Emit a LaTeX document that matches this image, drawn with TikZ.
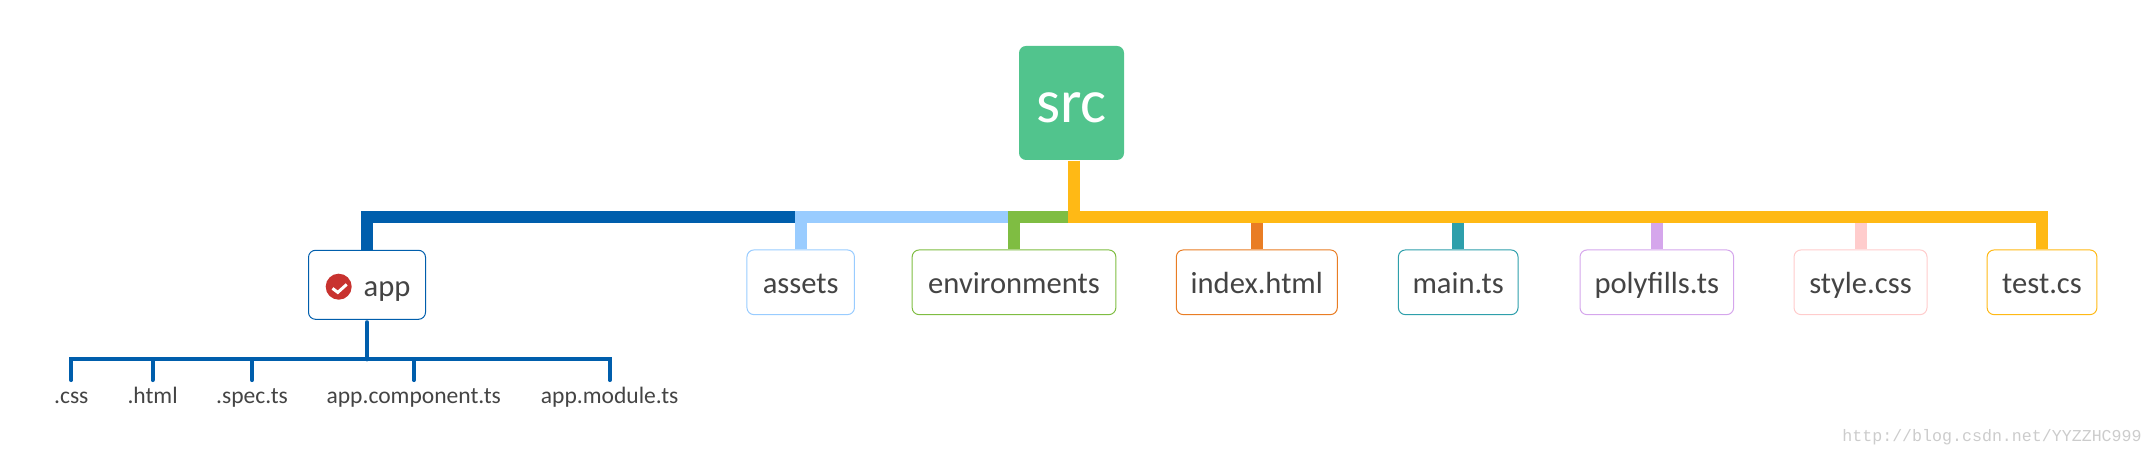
\documentclass[tikz,border=0pt]{standalone}
\usepackage{fontspec}
\setmainfont{Carlito}
\newfontfamily\markfont{Liberation Mono}
\usepackage{xcolor}
\usetikzlibrary{arrows.meta,positioning,calc}

\definecolor{rootgreen}{HTML}{51C48D}
\definecolor{appblue}{HTML}{005EAC}
\definecolor{assetblue}{HTML}{99CCFF}
\definecolor{envgreen}{HTML}{7FBD42}
\definecolor{indexorange}{HTML}{E97D24}
\definecolor{mainteal}{HTML}{2E9FAB}
\definecolor{polypurple}{HTML}{D5A6EC}
\definecolor{stylepink}{HTML}{FFCCCC}
\definecolor{trunkyellow}{HTML}{FFB915}
\definecolor{tickred}{HTML}{C8322F}
\definecolor{labelgray}{HTML}{444444}

\begin{document}
\begin{tikzpicture}[
    filebox/.style={draw, rectangle, rounded corners=0.07cm, line width=0.01cm, fill=white, inner sep=0pt,
        minimum height=0.647cm, text height=0.30cm, text depth=0.066cm, text=labelgray,
        font=\fontsize{8.7pt}{11pt}\selectfont},
    leaflabel/.style={anchor=north, inner sep=0pt, text height=0.23cm, text depth=0.06cm, text=labelgray,
        font=\fontsize{6.7pt}{8pt}\selectfont},
    branch/.style={line width=0.12cm},
    leafline/.style={draw=appblue, line width=0.042cm, line cap=round}]
    \useasboundingbox (0,0) rectangle (21.54,-4.57);

    % Central root box
    \node[rectangle, fill=rootgreen, rounded corners=0.07cm, text=white, minimum width=1.05cm, minimum height=1.14cm,
        inner sep=0pt, text height=0.4cm, text depth=0cm, font=\fontsize{17.5pt}{20pt}\selectfont] (src) at (10.715,-1.03) {src};
    \coordinate (hub) at (10.736,-2.167);

    % First level boxes
    \node[filebox, draw=appblue, minimum width=1.17cm, minimum height=0.69cm] (app) at (3.67,-2.848) {\hspace*{0.4cm}app};
    \node[filebox, draw=assetblue, minimum width=1.075cm] (assets) at (8.007,-2.823) {assets};
    \node[filebox, draw=envgreen, minimum width=2.037cm] (env) at (10.14,-2.823) {environments};
    \node[filebox, draw=indexorange, minimum width=1.61cm] (index) at (12.568,-2.823) {index.html};
    \node[filebox, draw=mainteal, minimum width=1.197cm] (main) at (14.582,-2.823) {main.ts};
    \node[filebox, draw=polypurple, minimum width=1.536cm] (poly) at (16.568,-2.823) {polyfills.ts};
    \node[filebox, draw=stylepink, minimum width=1.33cm] (style) at (18.605,-2.823) {style.css};
    \node[filebox, draw=trunkyellow, minimum width=1.098cm] (test) at (20.42,-2.823) {test.cs};

    % Tick on the app box
    \node[circle, fill=tickred, minimum size=0.26cm, inner sep=0pt] (tick) at (3.387,-2.867) {};
    \draw[white, line width=0.03cm] ([shift={(-0.062,-0.017)}]tick.center) -- ([shift={(-0.009,-0.057)}]tick.center) -- ([shift={(0.08,0.023)}]tick.center);

    % Bars from the root
    \draw[branch, appblue] (hub) -| (app.north);
    \draw[branch, assetblue] (hub) -| (assets.north);
    \draw[branch, envgreen] (hub) -| (env.north);
    \draw[branch, indexorange] (index.north |- hub) -- (index.north);
    \draw[branch, mainteal] (main.north |- hub) -- (main.north);
    \draw[branch, polypurple] (poly.north |- hub) -- (poly.north);
    \draw[branch, stylepink] (style.north |- hub) -- (style.north);
    \draw[branch, trunkyellow] (hub |- src.south) -- (hub) -| (test.north);

    % Labels under app
    \node[leaflabel] (css) at (0.713,-3.80) {.css};
    \node[leaflabel] (html) at (1.526,-3.80) {.html};
    \node[leaflabel] (spec) at (2.52,-3.80) {.spec.ts};
    \node[leaflabel] (comp) at (4.138,-3.80) {app.component.ts};
    \node[leaflabel] (module) at (6.097,-3.80) {app.module.ts};
    \coordinate (fork) at (3.67,-3.593);

    % Lines under app
    \draw[leafline, shorten <=0.025cm] (app.south) -- (fork);
    \draw[leafline] (fork) -| (css.north);
    \draw[leafline] (fork) -| (html.north);
    \draw[leafline] (fork) -| (spec.north);
    \draw[leafline] (fork) -| (comp.north);
    \draw[leafline] (fork) -| (module.north);

    \node[text=gray!40, inner sep=0pt, font=\markfont\fontsize{4.73pt}{6pt}\selectfont] (mark) at (19.92,-4.37) {http://blog.csdn.net/YYZZHC999};
\end{tikzpicture}
\end{document}
